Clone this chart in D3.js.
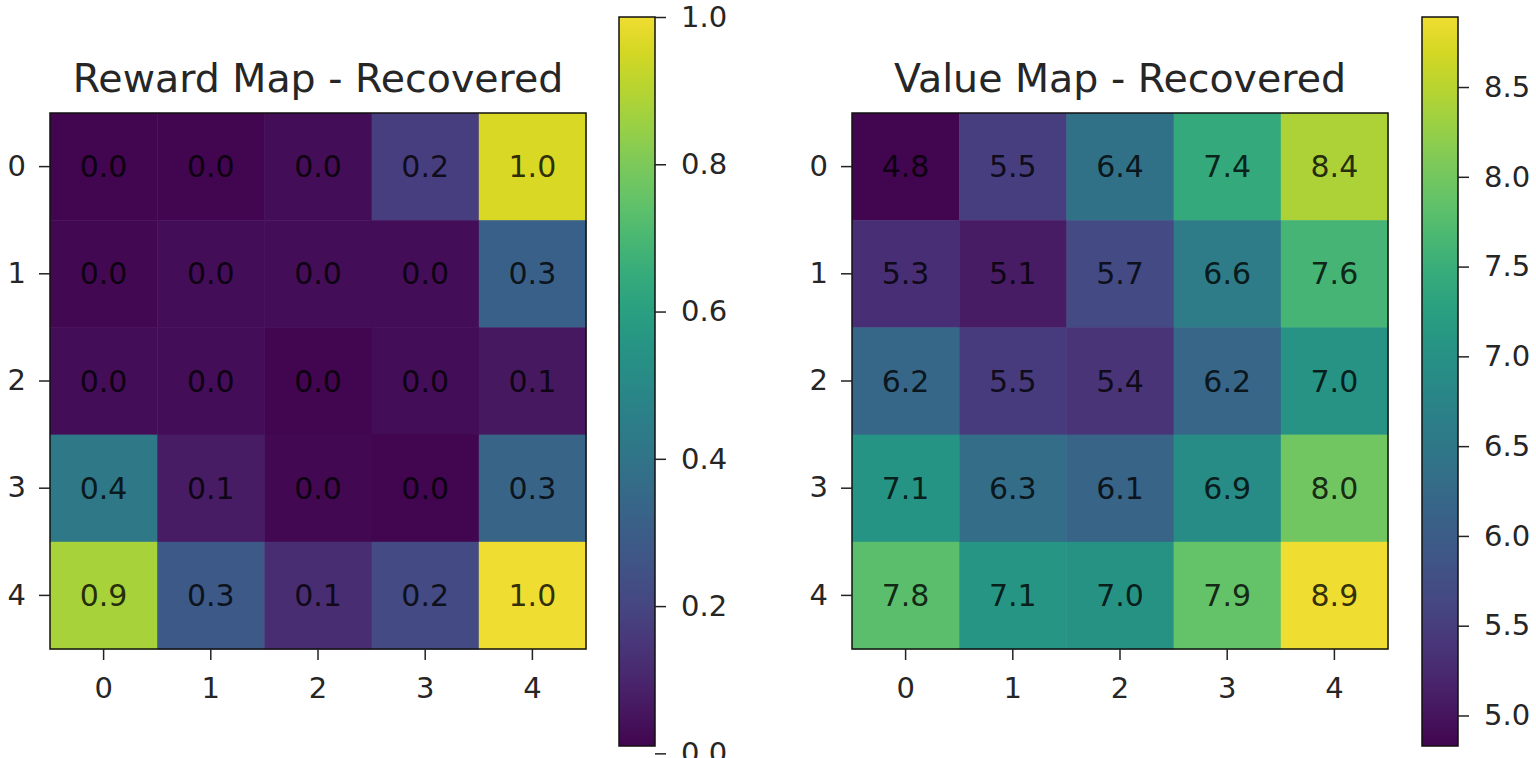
<!DOCTYPE html>
<html>

<head>
    <script type="text/javascript" src="https://d3js.org/d3.v7.min.js"></script>
    <style>
        body {
            margin: 0;
            background: white;
            font-family: "DejaVu Sans", sans-serif;
        }
    </style>
</head>

<body>
    <div id="svgcontainer">
    </div>
    <script language="javascript">
        var width = 1536;
        var height = 758;

        // grid labels
        var rowLabels = ['0', '1', '2', '3', '4'];
        var colLabels = ['0', '1', '2', '3', '4'];

        // reward map values (rows top to bottom)
        var rewardValues = [
            [0.01, 0.01, 0.03, 0.18, 0.96],
            [0.02, 0.03, 0.03, 0.03, 0.31],
            [0.03, 0.03, 0.01, 0.03, 0.06],
            [0.42, 0.07, 0.02, 0.01, 0.33],
            [0.88, 0.28, 0.12, 0.22, 1.00]
        ];
        var rewardTicks = [0.0, 0.2, 0.4, 0.6, 0.8, 1.0];

        // value map values
        var valueValues = [
            [4.83, 5.52, 6.39, 7.42, 8.43],
            [5.31, 5.08, 5.69, 6.58, 7.61],
            [6.18, 5.47, 5.38, 6.17, 7.02],
            [7.06, 6.30, 6.12, 6.90, 7.98],
            [7.80, 7.08, 7.01, 7.88, 8.89]
        ];
        var valueTicks = [5.0, 5.5, 6.0, 6.5, 7.0, 7.5, 8.0, 8.5];

        var svg = d3.select("#svgcontainer")
            .append("svg")
            .attr("width", width)
            .attr("height", height);

        var textColor = '#262626';
        var mapSize = 536;
        var mapTop = 113;
        var barTop = 17;
        var barBottom = 746;
        var barWidth = 36;

        // the reference colours look a little washed out
        function viridis(t) {
            var c = d3.hsl(d3.interpolateViridis(t));
            c.s *= 0.88;
            return c.formatHex();
        }

        function drawPanel(id, title, values, ticks, mapLeft, barLeft) {
            var flat = values.flat();
            var lo = d3.min(flat), hi = d3.max(flat);
            var color = d3.scaleSequential(viridis).domain([lo, hi]);

            var x = d3.scaleBand().domain(colLabels).range([mapLeft, mapLeft + mapSize]);
            var y = d3.scaleBand().domain(rowLabels).range([mapTop, mapTop + mapSize]);

            var cells = [];
            values.forEach(function (row, i) {
                row.forEach(function (v, j) {
                    cells.push({ r: rowLabels[i], c: colLabels[j], v: v });
                });
            });

            var g = svg.append('g');
            g.selectAll('rect.cell').data(cells).enter().append('rect')
                .attr('class', 'cell')
                .attr('x', d => x(d.c))
                .attr('y', d => y(d.r))
                .attr('width', x.bandwidth() + 0.5)
                .attr('height', y.bandwidth() + 0.5)
                .attr('fill', d => color(d.v));

            g.selectAll('text.ann').data(cells).enter().append('text')
                .attr('class', 'ann')
                .attr('x', d => x(d.c) + x.bandwidth() / 2)
                .attr('y', d => y(d.r) + y.bandwidth() / 2)
                .attr('text-anchor', 'middle')
                .attr('dominant-baseline', 'central')
                .attr('font-size', 30)
                .attr('fill', '#000')
                .attr('fill-opacity', 0.8)
                .text(d => d3.format('.1f')(d.v));

            g.append('rect')
                .attr('x', mapLeft).attr('y', mapTop)
                .attr('width', mapSize).attr('height', mapSize)
                .attr('fill', 'none').attr('stroke', '#111').attr('stroke-width', 1.5);

            // axes
            var ax = g.append('g')
                .attr('transform', 'translate(0,' + (mapTop + mapSize) + ')')
                .call(d3.axisBottom(x).tickSize(11).tickPadding(17));
            var ay = g.append('g')
                .attr('transform', 'translate(' + mapLeft + ',0)')
                .call(d3.axisLeft(y).tickSize(11).tickPadding(13));
            [ax, ay].forEach(function (a) {
                a.select('.domain').remove();
                a.selectAll('line').attr('stroke', '#222').attr('stroke-width', 1.5);
                a.selectAll('text').attr('font-size', 29).attr('fill', textColor)
                    .attr('font-family', '"DejaVu Sans", sans-serif');
            });

            g.append('text')
                .attr('x', mapLeft + mapSize / 2)
                .attr('y', 92)
                .attr('text-anchor', 'middle')
                .attr('font-size', 39.5)
                .attr('fill', textColor)
                .text(title);

            // colorbar
            var cy = d3.scaleLinear().domain([lo, hi]).range([barBottom, barTop]);
            var grad = svg.append('defs').append('linearGradient')
                .attr('id', id)
                .attr('x1', 0).attr('y1', 1).attr('x2', 0).attr('y2', 0);
            d3.range(0, 1.0001, 0.05).forEach(function (t) {
                grad.append('stop')
                    .attr('offset', t)
                    .attr('stop-color', viridis(t));
            });
            g.append('rect')
                .attr('x', barLeft).attr('y', barTop)
                .attr('width', barWidth).attr('height', barBottom - barTop)
                .attr('fill', 'url(#' + id + ')')
                .attr('stroke', '#111').attr('stroke-width', 1.5);

            var ac = g.append('g')
                .attr('transform', 'translate(' + (barLeft + barWidth) + ',0)')
                .call(d3.axisRight(cy).tickValues(ticks).tickFormat(d3.format('.1f')).tickSize(11).tickPadding(15));
            ac.select('.domain').remove();
            ac.selectAll('line').attr('stroke', '#222').attr('stroke-width', 1.5);
            ac.selectAll('text').attr('font-size', 29).attr('fill', textColor)
                .attr('font-family', '"DejaVu Sans", sans-serif');
        }

        drawPanel('gradReward', 'Reward Map - Recovered', rewardValues, rewardTicks, 50, 619);
        drawPanel('gradValue', 'Value Map - Recovered', valueValues, valueTicks, 852, 1422);
    </script>
</body>

</html>
